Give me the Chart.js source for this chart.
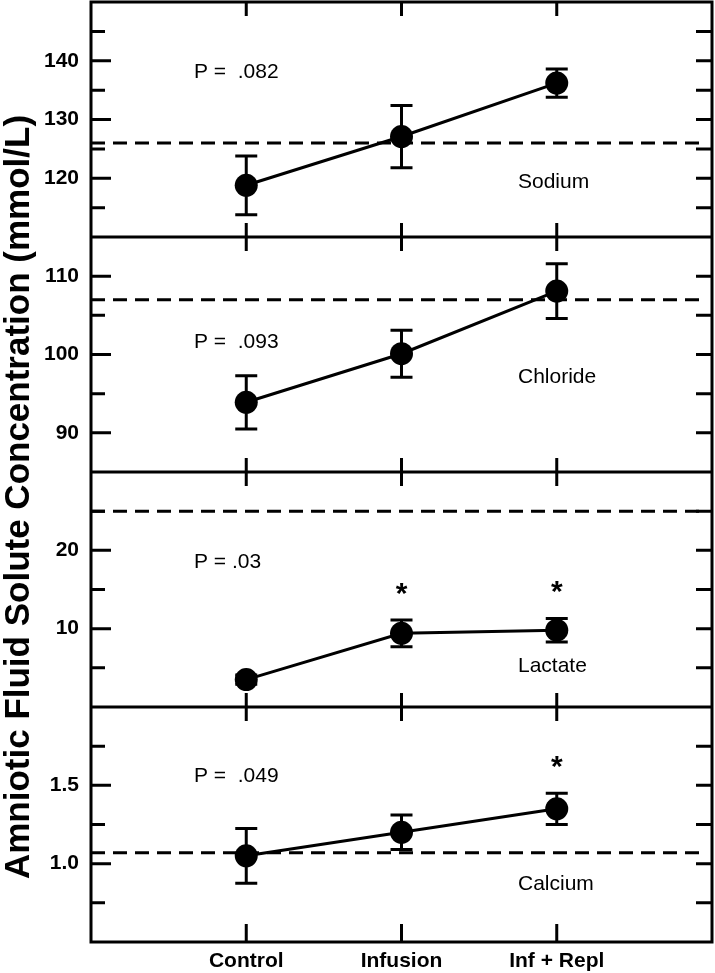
<!DOCTYPE html>
<html>
<head>
<meta charset="utf-8">
<script src="https://cdn.jsdelivr.net/npm/chart.js@4.4.1/dist/chart.umd.min.js"></script>
<style>
  html, body { margin: 0; padding: 0; background: #fff; }
  canvas { display: block; }
</style>
</head>
<body>
<canvas id="soluteChart" width="715" height="973"></canvas>
<script>
const groups = ['Control', 'Infusion', 'Inf + Repl'];

// mean and SE per group
const sodiumMean = [118.8, 127.1, 136.2];
const sodiumErr = [5.0, 5.3, 2.4];
const chlorideMean = [93.9, 100.1, 108.1];
const chlorideErr = [3.4, 3.0, 3.5];
const lactateMean = [3.5, 9.4, 9.8];
const lactateErr = [0.6, 1.7, 1.5];
const calciumMean = [1.05, 1.2, 1.35];
const calciumErr = [0.175, 0.11, 0.1];

// dashed reference line for each solute
const normalValues = [126, 107, 25, 1.07];
const pValues = ['P =  .082', 'P =  .093', 'P = .03', 'P =  .049'];
const soluteNames = ['Sodium', 'Chloride', 'Lactate', 'Calcium'];
const significant = [
  [false, false, false],
  [false, false, false],
  [false, true, true],
  [false, false, true],
];

// labelled ticks on each panel
const sodiumTicks = [120, 130, 140];
const chlorideTicks = [90, 100, 110];
const lactateTicks = [10, 20];
const calciumTicks = [1.0, 1.5];

const yTitle = 'Amniotic Fluid Solute Concentration (mmol/L)';

const FONT = "'Liberation Sans', Arial, Helvetica, sans-serif";

// one entry per stacked panel, top to bottom
const panels = [
  { id: 'y1', min: 110, max: 150, step: 5, ticks: sodiumTicks, mean: sodiumMean, err: sodiumErr, digits: 0, pY: 70, nameY: 180 },
  { id: 'y2', min: 85, max: 115, step: 5, ticks: chlorideTicks, mean: chlorideMean, err: chlorideErr, digits: 0, pY: 105, nameY: 140 },
  { id: 'y3', min: 0, max: 30, step: 5, ticks: lactateTicks, mean: lactateMean, err: lactateErr, digits: 0, pY: 90, nameY: 194 },
  { id: 'y4', min: 0.5, max: 2.0, step: 0.25, ticks: calciumTicks, mean: calciumMean, err: calciumErr, digits: 1, pY: 69, nameY: 177 },
];

const scales = {
  x: {
    type: 'linear',
    min: 0,
    max: 4,
    position: 'bottom',
    grid: { display: false, drawTicks: false },
    border: { display: false },
    afterBuildTicks: scale => {
      scale.ticks = groups.map((g, i) => ({ value: i + 1 }));
    },
    afterFit: scale => {
      scale.height = 31;
      scale.paddingLeft = 0;
      scale.paddingRight = 0;
    },
    ticks: {
      autoSkip: false,
      maxRotation: 0,
      padding: 7,
      color: '#000',
      font: { family: FONT, size: 21, weight: 'bold' },
      callback: v => groups[v - 1],
    },
  },
};

// stacked axes are laid out bottom-up, so add them in reverse
panels.slice().reverse().forEach(p => {
  scales[p.id] = {
    type: 'linear',
    position: 'left',
    stack: 'solutes',
    stackWeight: 1,
    min: p.min,
    max: p.max,
    grid: { display: false, drawTicks: false },
    border: { display: false },
    afterFit: scale => {
      scale.width = 91;
      scale.paddingTop = 0;
      scale.paddingBottom = 0;
    },
    ticks: {
      stepSize: p.step,
      autoSkip: false,
      padding: 12,
      color: '#000',
      font: { family: FONT, size: 21, weight: 'bold' },
      callback: v => (p.ticks.includes(v) ? v.toFixed(p.digits) : ''),
    },
  };
});

const datasets = panels.map(p => ({
  data: p.mean.map((m, i) => ({ x: i + 1, y: m })),
  xAxisID: 'x',
  yAxisID: p.id,
  borderColor: '#000',
  borderWidth: 3,
  tension: 0,
  pointRadius: 11.5,
  pointBackgroundColor: '#000',
  pointBorderColor: '#000',
  pointBorderWidth: 0,
}));

const panelPlugin = {
  id: 'panelDecor',
  beforeDatasetsDraw(chart) {
    const { ctx, chartArea } = chart;
    const xs = chart.scales.x;
    ctx.save();
    ctx.strokeStyle = '#000';
    panels.forEach((p, k) => {
      const ys = chart.scales[p.id];
      // reference line
      const yRef = ys.getPixelForValue(normalValues[k]);
      ctx.lineWidth = 3;
      ctx.setLineDash([14, 8]);
      ctx.beginPath();
      ctx.moveTo(chartArea.left, yRef);
      ctx.lineTo(chartArea.right - 10, yRef);
      ctx.stroke();
      ctx.setLineDash([]);
      // error bars
      p.mean.forEach((m, i) => {
        const x = xs.getPixelForValue(i + 1);
        const top = ys.getPixelForValue(m + p.err[i]);
        const bot = ys.getPixelForValue(m - p.err[i]);
        ctx.beginPath();
        ctx.moveTo(x, top); ctx.lineTo(x, bot);
        ctx.moveTo(x - 11, top); ctx.lineTo(x + 11, top);
        ctx.moveTo(x - 11, bot); ctx.lineTo(x + 11, bot);
        ctx.stroke();
      });
    });
    ctx.restore();
  },
  afterDatasetsDraw(chart) {
    const { ctx, chartArea } = chart;
    const xs = chart.scales.x;
    ctx.save();
    ctx.strokeStyle = '#000';
    ctx.fillStyle = '#000';
    ctx.lineWidth = 3;
    ctx.lineCap = 'butt';

    panels.forEach((p, k) => {
      const ys = chart.scales[p.id];
      const top = ys.top, bottom = ys.bottom;

      // panel separator
      if (k > 0) {
        ctx.beginPath();
        ctx.moveTo(chartArea.left, top);
        ctx.lineTo(chartArea.right, top);
        ctx.stroke();
      }

      // y ticks, inward on both sides
      ys.ticks.forEach(t => {
        if (t.value <= p.min || t.value >= p.max) return;
        const y = ys.getPixelForValue(t.value);
        const len = p.ticks.includes(t.value) ? 20 : 14;
        ctx.beginPath();
        ctx.moveTo(chartArea.left, y); ctx.lineTo(chartArea.left + len, y);
        ctx.moveTo(chartArea.right, y); ctx.lineTo(chartArea.right - 16, y);
        ctx.stroke();
      });

      // x ticks at top and bottom of every panel
      groups.forEach((g, i) => {
        const x = xs.getPixelForValue(i + 1);
        ctx.beginPath();
        ctx.moveTo(x, top); ctx.lineTo(x, top + 14);
        ctx.moveTo(x, bottom); ctx.lineTo(x, bottom - (k === panels.length - 1 ? 18 : 14));
        ctx.stroke();
      });

      // P value and solute name
      ctx.font = `21px ${FONT}`;
      ctx.textAlign = 'left';
      ctx.textBaseline = 'middle';
      ctx.fillText(pValues[k], chartArea.left + 103, top + p.pY);
      ctx.fillText(soluteNames[k], chartArea.left + 427, top + p.nameY);

      // significance marks
      ctx.font = `bold 30px ${FONT}`;
      ctx.textAlign = 'center';
      ctx.textBaseline = 'alphabetic';
      significant[k].forEach((s, i) => {
        if (!s) return;
        const x = xs.getPixelForValue(i + 1);
        const yTop = ys.getPixelForValue(p.mean[i] + p.err[i]);
        ctx.fillText('*', x, yTop - 34 + 17);
      });
    });

    // outer frame
    ctx.lineWidth = 3;
    ctx.strokeRect(chartArea.left, chartArea.top, chartArea.right - chartArea.left, chartArea.bottom - chartArea.top);

    // y axis title
    ctx.translate(19, (chartArea.top + chartArea.bottom) / 2 + 25);
    ctx.rotate(-Math.PI / 2);
    ctx.font = `bold 35px ${FONT}`;
    ctx.textAlign = 'center';
    ctx.textBaseline = 'middle';
    ctx.fillText(yTitle, 0, 0);
    ctx.restore();
  },
};

new Chart(document.getElementById('soluteChart'), {
  type: 'line',
  data: { datasets },
  options: {
    responsive: false,
    animation: false,
    layout: { autoPadding: false, padding: { top: 2, right: 3, left: 0, bottom: 0 } },
    plugins: { legend: { display: false }, tooltip: { enabled: false } },
    scales,
  },
  plugins: [panelPlugin],
});
</script>
</body>
</html>
